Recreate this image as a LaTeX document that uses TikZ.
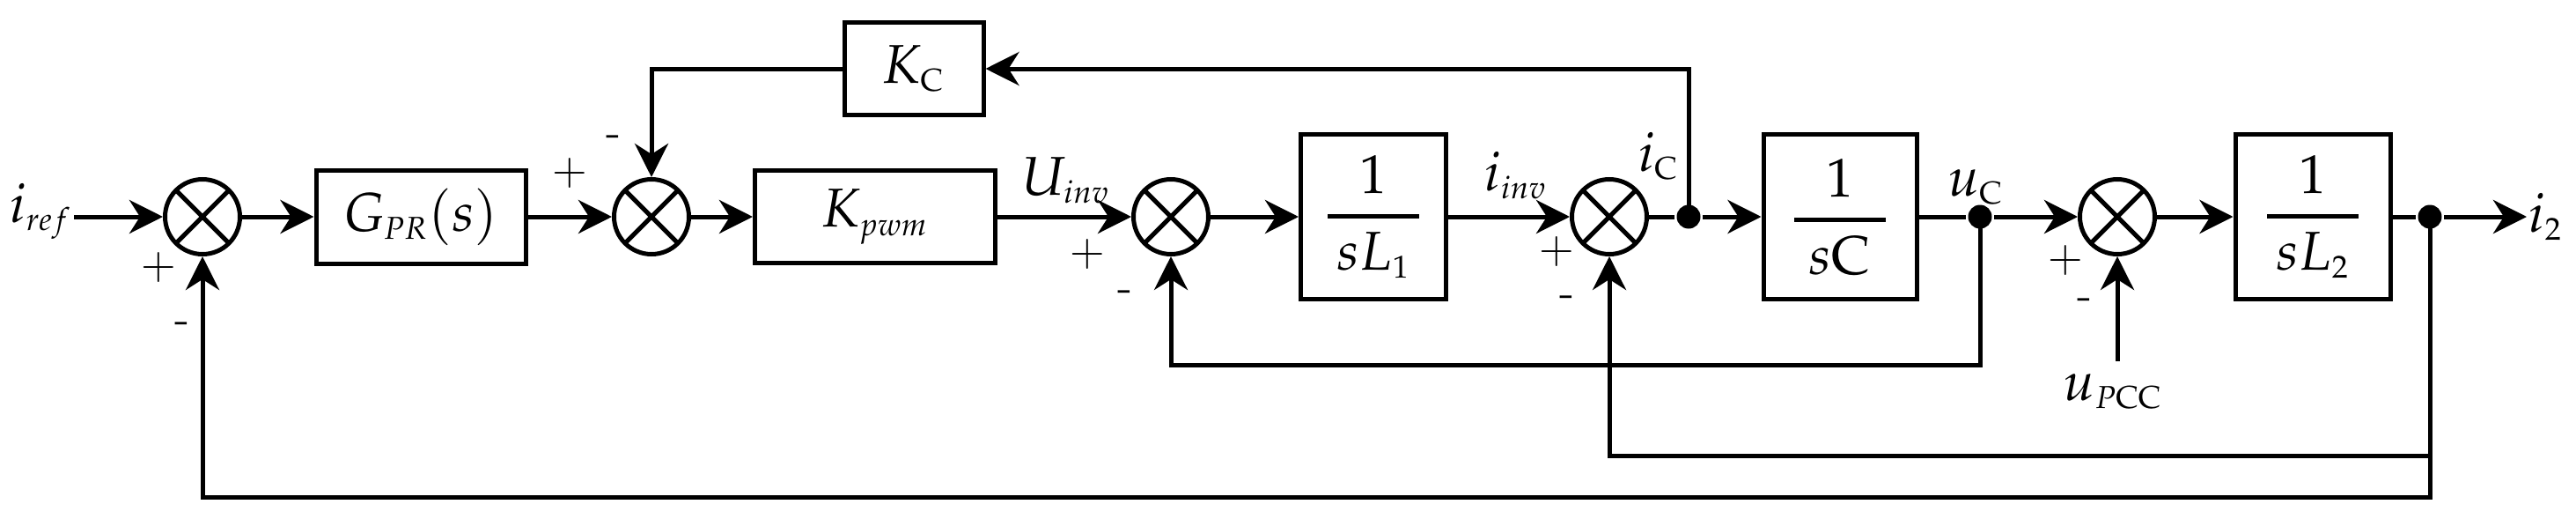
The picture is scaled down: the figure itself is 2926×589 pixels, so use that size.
\documentclass[tikz,border=0pt]{standalone}
\usepackage{amsmath}
\usepackage{mathpazo}
\DeclareMathSizes{15.5}{15.5}{9}{7}
\usetikzlibrary{arrows.meta,calc}
\begin{document}
\begin{tikzpicture}[x=0.25pt,y=-0.25pt,line width=1.25pt,
  blk/.style={draw,line width=1.25pt,inner sep=0pt,font=\fontsize{15.5}{18}\selectfont},
  sumn/.style={draw,circle,line width=1.25pt,minimum size=21.25pt,inner sep=0pt,
    path picture={\draw[line width=1.25pt]
      (path picture bounding box.north west) -- (path picture bounding box.south east)
      (path picture bounding box.north east) -- (path picture bounding box.south west);}},
  dotn/.style={circle,fill,inner sep=0pt,minimum size=6.75pt},
  lbl/.style={inner sep=0pt,font=\fontsize{15.5}{18}\selectfont},
  sgn/.style={inner sep=0pt,font=\fontsize{13}{15}\selectfont},
  arr/.style={-{Stealth[length=9.5pt,width=9.5pt,inset=3pt]}}
]
\useasboundingbox (0,0) rectangle (2926,589);
\newcommand{\myfrac}[1]{$\genfrac{}{}{1.25pt}{0}{\makebox[26pt]{$1$}}{\makebox[26pt]{$#1$}}$}
% blocks
\node[sumn] (s1) at (230,246) {};
\node[blk,minimum width=59.5pt,minimum height=26.5pt] (gpr) at (478,246) {$G_{PR}(s)$};
\node[sumn] (s2) at (740,246) {};
\node[blk,minimum width=39.5pt,minimum height=26.25pt] (kc) at (1038,78) {$K_{\mathrm{C}}$};
\node[blk,minimum width=68.25pt,minimum height=26.25pt] (kpwm) at (994,246) {$K_{pwm}$};
\node[sumn] (s3) at (1330,246) {};
\node[blk,minimum width=41.25pt,minimum height=46.75pt] (l1) at (1560,246) {\myfrac{sL_1}};
\node[sumn] (s4) at (1828,246) {};
\node[dotn] (dc) at (1918,246) {};
\node[blk,minimum width=43.5pt,minimum height=46.75pt] (cc) at (2090,246) {\myfrac{s\mathrm{C}}};
\node[dotn] (du) at (2249,246) {};
\node[sumn] (s5) at (2405,246) {};
\node[blk,minimum width=44pt,minimum height=46.75pt] (l2) at (2627,246) {\myfrac{sL_2}};
\node[dotn] (di) at (2760,246) {};
% signal labels
\node[lbl,anchor=west] (i2) at (2870,246) {$i_2$};
\node[lbl,anchor=east] (iref) at (84,240) {$i_{ref}$};
\node[lbl] (uinv) at (1211,205) {$U_{inv}$};
\node[lbl] (iinv) at (1722,199) {$i_{inv}$};
\node[lbl] (ic) at (1884,177) {$i_{\mathrm{C}}$};
\node[lbl] (uc) at (2244,212) {$u_{\mathrm{C}}$};
\node[lbl,anchor=north,inner ysep=3pt] (upcc) at (2400,410) {$u_{P\mathrm{CC}}$};
% signs
\node[sgn] (p1) at (180,304) {+};
\node[sgn] (m1) at (207,372) {-};
\node[sgn] (p2) at (647,197) {+};
\node[sgn] (m2) at (697,160) {-};
\node[sgn] (p3) at (1235,289) {+};
\node[sgn] (m3) at (1278,336) {-};
\node[sgn] (p4) at (1768,286) {+};
\node[sgn] (m4) at (1780,342) {-};
\node[sgn] (p5) at (2346,296) {+};
\node[sgn] (m5) at (2368,345) {-};
% levels of feedback lines
\coordinate (ya) at (0,414);
\coordinate (yb) at (0,517);
\coordinate (yc) at (0,564);
% forward path
\draw[arr] (iref.east |- s1) -- (s1);
\draw[arr] (s1) -- (gpr);
\draw[arr] (gpr) -- (s2);
\draw[arr] (s2) -- (kpwm);
\draw[arr] (kpwm) -- (s3);
\draw[arr] (s3) -- (l1);
\draw[arr] (l1) -- (s4);
\draw (s4) -- (dc);
\draw[arr] (dc) -- (cc);
\draw (cc) -- (du);
\draw[arr] (du) -- (s5);
\draw[arr] (s5) -- (l2);
\draw (l2) -- (di);
\draw[arr] (di) -- (i2.west);
% feedback paths
\draw[arr] (dc.center) |- (kc.east);
\draw[arr] (kc.west) -| (s2.north);
\draw[arr] (du.center) -- (du.center |- ya) -| (s3.south);
\draw[arr] (di.center) -- (di.center |- yb) -| (s4.south);
\draw[arr] (di.center) -- (di.center |- yc) -| (s1.south);
\draw[arr] (upcc.north -| s5.south) -- (s5.south);
\end{tikzpicture}
\end{document}
